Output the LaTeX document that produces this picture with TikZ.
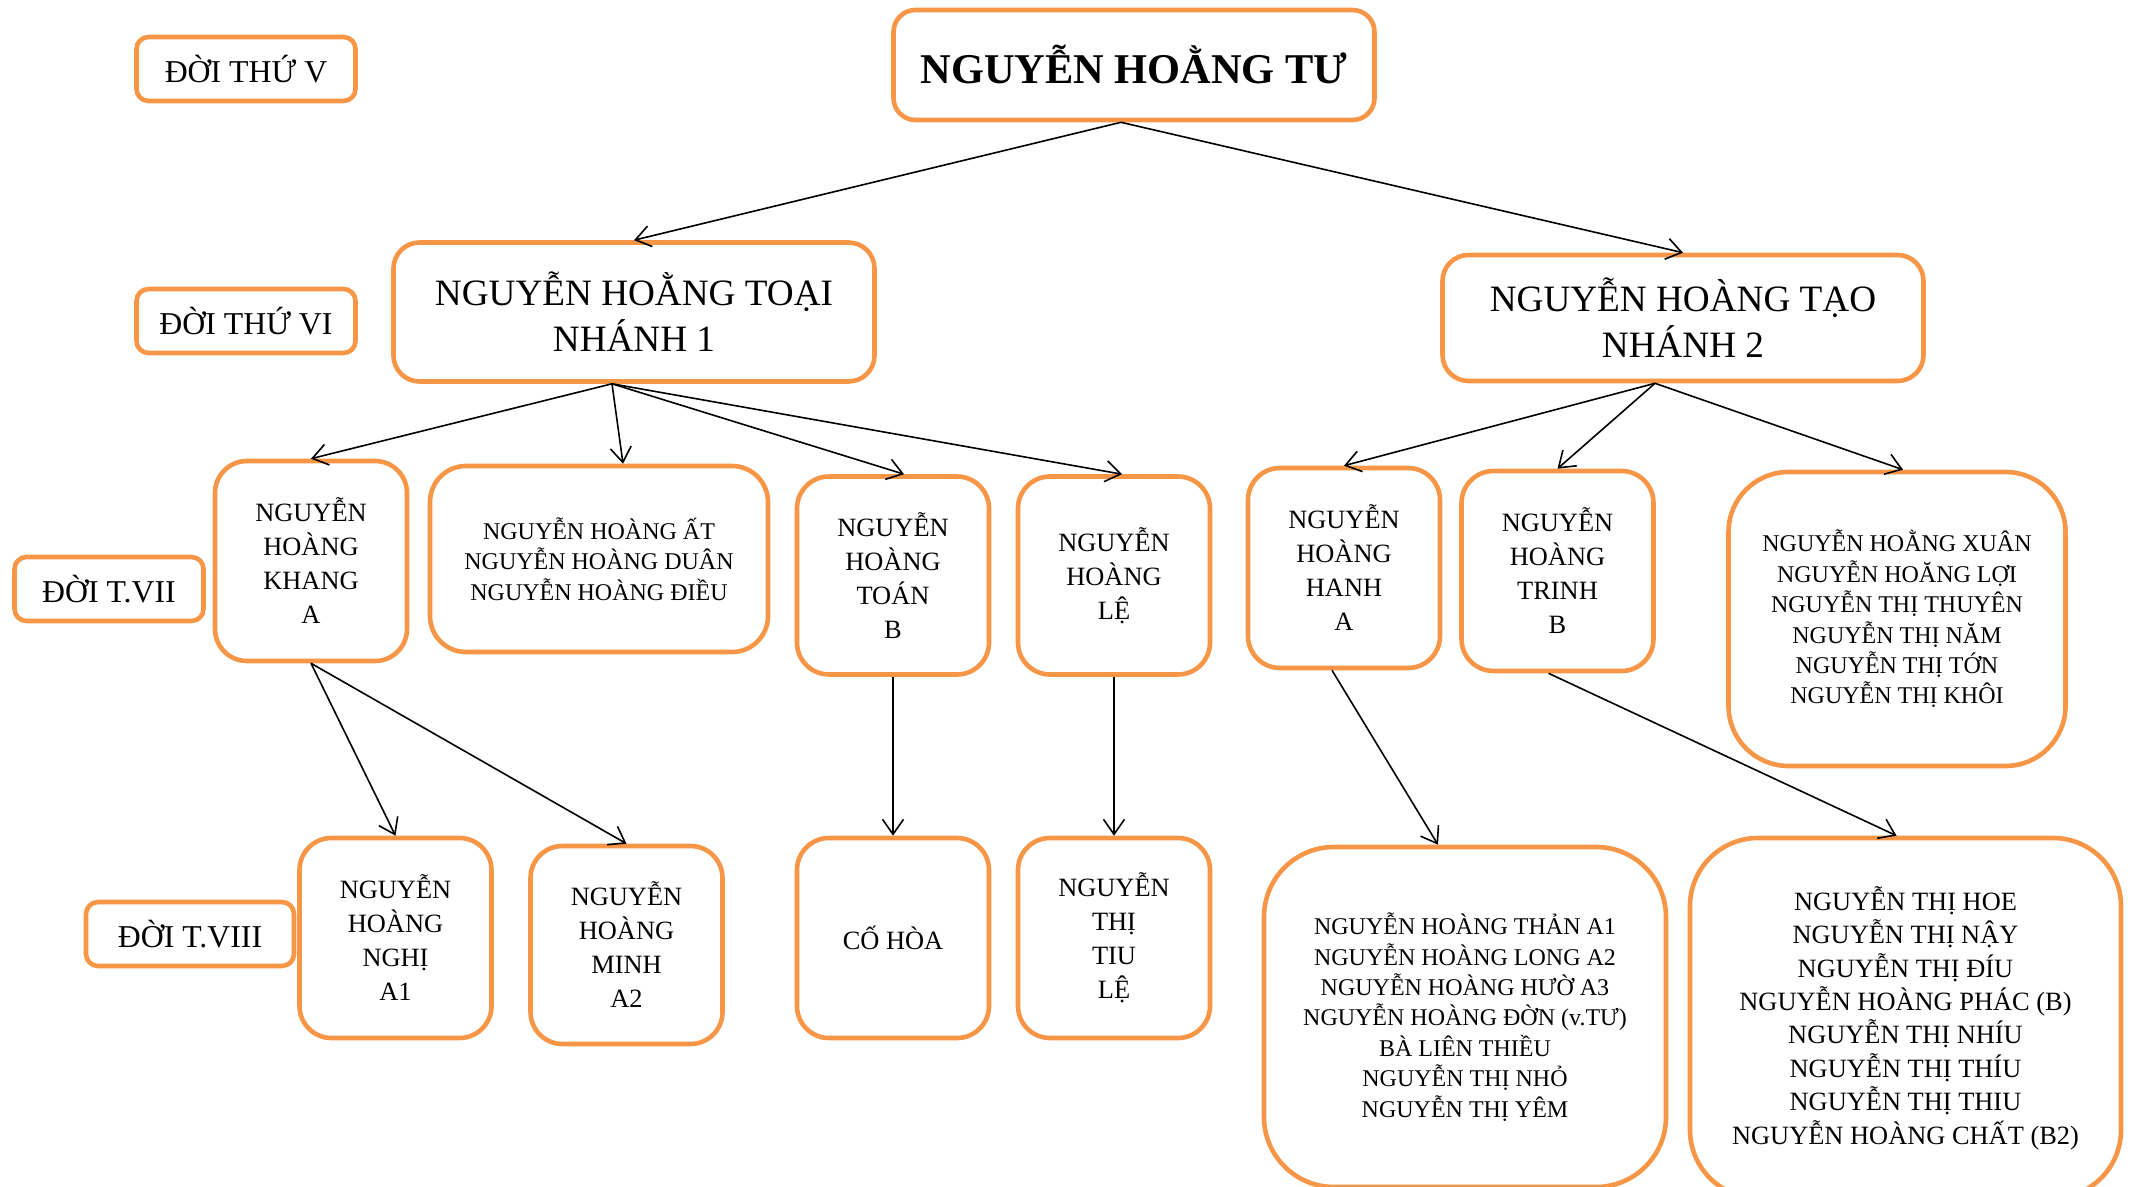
\documentclass[tikz,border=0pt]{standalone}
\usepackage{fontspec}
\setmainfont{Liberation Serif}
\usetikzlibrary{arrows.meta}
\definecolor{camdat}{RGB}{247,150,70}
\tikzset{
  hop/.style={draw=camdat, line width=2.3pt, fill=white, align=center, inner sep=2pt},
  nhan/.style={hop, rounded corners=6pt, minimum height=32pt, font=\fontsize{15.9}{19}\selectfont},
  ten/.style={hop, minimum width=96pt, minimum height=100pt, rounded corners=16pt, font=\fontsize{13.2}{17}\selectfont},
  nhom/.style={hop, font=\fontsize{12}{15.2}\selectfont},
  nhanh/.style={hop, minimum width=240.5pt, rounded corners=13pt, font=\fontsize{18.6}{23}\selectfont},
  muiten/.style={-{Straight Barb[length=7.5pt,width=10.5pt]}, line width=0.8pt}
}
\begin{document}
\begin{tikzpicture}[x=0.5pt,y=-0.5pt]
    \useasboundingbox (0,0) rectangle (2131,1187);

    % Nhãn các đời
    \node[nhan, minimum width=109.5pt] (doiV) at (246,69) {ĐỜI THỨ V};
    \node[nhan, minimum width=109.5pt] (doiVI) at (246,321) {ĐỜI THỨ VI};
    \node[nhan, minimum width=94.5pt] (doiVII) at (109,589) {ĐỜI T.VII};
    \node[nhan, minimum width=104pt] (doiVIII) at (190,934) {ĐỜI T.VIII};

    % Đời thứ V
    \node[hop, minimum width=240.5pt, minimum height=55pt, rounded corners=11pt,
          font=\bfseries\fontsize{21.2}{25}\selectfont] (tu) at (1134,65) {NGUYỄN HOẰNG TƯ};

    % Đời thứ VI
    \node[nhanh, minimum height=69.5pt] (toai) at (634,312) {NGUYỄN HOẰNG TOẠI\\NHÁNH 1};
    \node[nhanh, minimum height=63pt] (tao) at (1683,318) {NGUYỄN HOÀNG TẠO\\NHÁNH 2};

    % Đời T.VII
    \node[ten] (khang) at (311,561) {NGUYỄN\\HOÀNG\\KHANG\\A};
    \node[nhom, minimum width=169pt, minimum height=93pt, rounded corners=18pt] (at) at (599,559)
        {NGUYỄN HOÀNG ẤT\\NGUYỄN HOÀNG DUÂN\\NGUYỄN HOÀNG ĐIỀU};
    \node[ten, minimum height=99pt] (toan) at (893,575.5) {NGUYỄN\\HOÀNG\\TOÁN\\B};
    \node[ten, minimum height=99pt] (le) at (1114,575.5) {NGUYỄN\\HOÀNG\\LỆ};
    \node[ten] (hanh) at (1344,568) {NGUYỄN\\HOÀNG\\HANH\\A};
    \node[ten] (trinh) at (1557.5,571) {NGUYỄN\\HOÀNG\\TRINH\\B};
    \node[nhom, minimum width=168.5pt, minimum height=147pt, rounded corners=30pt] (xuan) at (1897,619)
        {NGUYỄN HOẰNG XUÂN\\NGUYỄN HOĂNG LỢI\\NGUYỄN THỊ THUYÊN\\NGUYỄN THỊ NĂM\\NGUYỄN THỊ TỚN\\NGUYỄN THỊ KHÔI};

    % Đời T.VIII
    \node[ten] (nghi) at (395.5,938) {NGUYỄN\\HOÀNG\\NGHỊ\\A1};
    \node[ten, minimum height=99pt] (minh) at (626.5,945) {NGUYỄN\\HOÀNG\\MINH\\A2};
    \node[ten] (coHoa) at (893,938) {CỐ HÒA};
    \node[ten] (tiu) at (1114,938) {NGUYỄN\\THỊ\\TIU\\LỆ};
    \node[nhom, minimum width=201pt, minimum height=170pt, rounded corners=35pt] (than) at (1465,1017)
        {NGUYỄN HOÀNG THẢN A1\\NGUYỄN HOÀNG LONG A2\\NGUYỄN HOÀNG HƯỜ A3\\NGUYỄN HOÀNG ĐỜN (v.TƯ)\\BÀ LIÊN THIỀU\\NGUYỄN THỊ NHỎ\\NGUYỄN THỊ YÊM};
    \node[nhom, minimum width=215.5pt, minimum height=180pt, rounded corners=34pt,
          font=\fontsize{13.2}{16.7}\selectfont] (hoe) at (1905.5,1018)
        {NGUYỄN THỊ HOE\\NGUYỄN THỊ NẬY\\NGUYỄN THỊ ĐÍU\\NGUYỄN HOÀNG PHÁC (B)\\NGUYỄN THỊ NHÍU\\NGUYỄN THỊ THÍU\\NGUYỄN THỊ THIU\\NGUYỄN HOÀNG CHẤT (B2)};

    % Mũi tên
    \draw[muiten] ([xshift=-6.5pt]tu.south) -- (toai.north);
    \draw[muiten] ([xshift=-6.5pt]tu.south) -- (tao.north);
    \draw[muiten] ([xshift=-11pt]toai.south) -- (khang.north);
    \draw[muiten] ([xshift=-11pt]toai.south) -- ([xshift=12pt]at.north);
    \draw[muiten] ([xshift=-11pt]toai.south) -- ([xshift=5.5pt]toan.north);
    \draw[muiten] ([xshift=-11pt]toai.south) -- ([xshift=4pt]le.north);
    \draw[muiten] ([xshift=-14pt]tao.south) -- (hanh.north);
    \draw[muiten] ([xshift=-14pt]tao.south) -- (trinh.north);
    \draw[muiten] ([xshift=-14pt]tao.south) -- ([xshift=3pt]xuan.north);
    \draw[muiten] (khang.south) -- (nghi.north);
    \draw[muiten] (khang.south) -- (minh.north);
    \draw[muiten] (toan.south) -- (coHoa.north);
    \draw[muiten] (le.south) -- (tiu.north);
    \draw[muiten] ([xshift=-6pt]hanh.south) -- ([xshift=-13.5pt]than.north);
    \draw[muiten] ([xshift=-4.5pt]trinh.south) -- ([xshift=-4.5pt]hoe.north);
\end{tikzpicture}
\end{document}
